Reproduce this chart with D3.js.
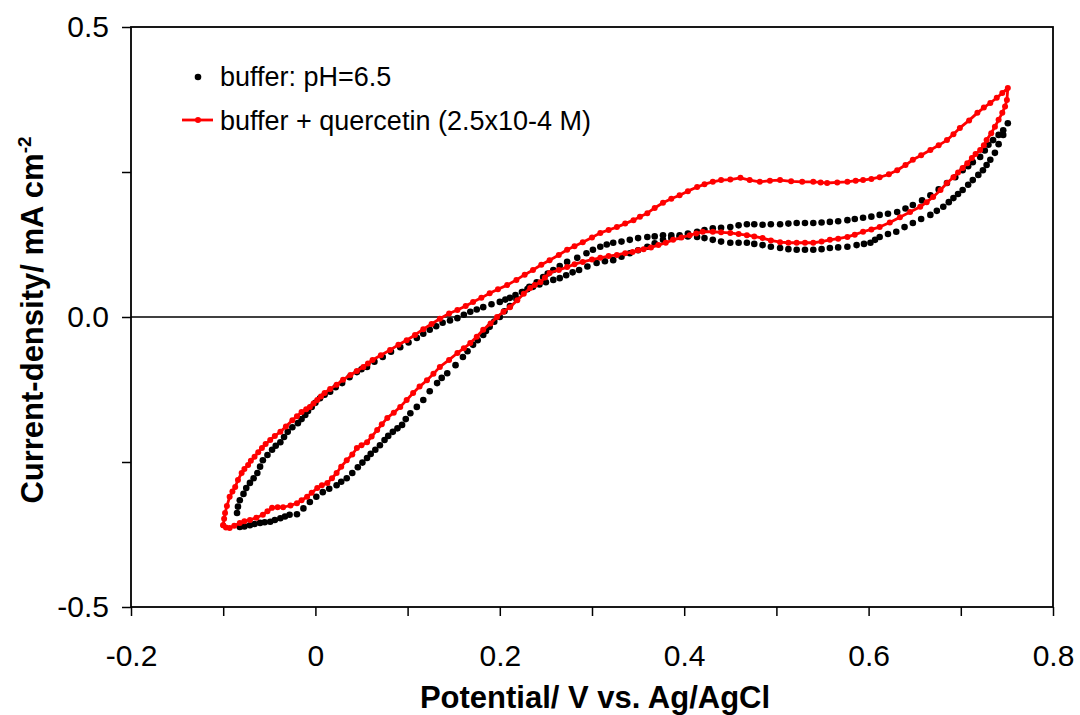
<!DOCTYPE html>
<html><head><meta charset="utf-8">
<script src="https://cdn.jsdelivr.net/npm/d3@7"></script>
<style>body{margin:0;background:#fff}svg{display:block}text{font-family:"Liberation Sans",Arial,sans-serif}</style>
</head><body>
<svg id="chart" width="1080" height="715"></svg>
<script>
// ---- data ----
const seriesNames = ["buffer: pH=6.5", "buffer + quercetin (2.5x10-4 M)"];

// buffer: anodic + cathodic branches (potential V, current density mA cm-2)
const bufferV = [
  -0.085,-0.084,-0.082,-0.078,-0.075,-0.071,-0.067,-0.063,-0.060,-0.057,
  -0.052,-0.047,-0.043,-0.038,-0.034,-0.030,-0.025,-0.019,-0.015,-0.011,
  -0.008,-0.004,0.000,0.005,0.010,0.016,0.022,0.029,0.037,0.045,
  0.050,0.056,0.064,0.073,0.082,0.092,0.101,0.110,0.117,0.124,
  0.131,0.138,0.146,0.154,0.161,0.168,0.175,0.182,0.191,0.200,
  0.206,0.211,0.217,0.224,0.230,0.236,0.243,0.250,0.258,0.265,
  0.272,0.279,0.286,0.295,0.305,0.314,0.323,0.332,0.341,0.350,
  0.360,0.368,0.377,0.386,0.395,0.404,0.414,0.422,0.431,0.440,
  0.450,0.459,0.468,0.476,0.485,0.494,0.504,0.513,0.522,0.531,
  0.540,0.549,0.558,0.567,0.577,0.587,0.595,0.602,0.607,0.612,
  0.621,0.630,0.639,0.648,0.657,0.667,0.674,0.681,0.687,0.692,
  0.697,0.702,0.708,0.713,0.719,0.724,0.728,0.732,0.737,0.741,
  0.746,0.751,
  0.746,0.741,0.735,0.730,0.726,0.721,0.713,0.708,0.702,0.694,
  0.685,0.676,0.667,0.658,0.648,0.640,0.631,0.621,0.612,0.603,
  0.594,0.585,0.577,0.567,0.558,0.549,0.540,0.531,0.522,0.513,
  0.504,0.494,0.485,0.476,0.468,0.459,0.450,0.440,0.431,0.422,
  0.414,0.404,0.395,0.386,0.377,0.368,0.360,0.350,0.341,0.332,
  0.323,0.316,0.309,0.301,0.294,0.284,0.273,0.265,0.258,0.252,
  0.247,0.240,0.232,0.225,0.218,0.211,0.205,0.200,0.194,0.189,
  0.185,0.182,0.176,0.171,0.165,0.160,0.152,0.143,0.137,0.132,
  0.124,0.117,0.110,0.103,0.098,0.094,0.089,0.084,0.079,0.075,
  0.070,0.065,0.060,0.056,0.051,0.046,0.040,0.034,0.028,0.023,
  0.015,0.008,0.001,-0.006,-0.013,-0.020,-0.028,-0.033,-0.038,-0.044,
  -0.049,-0.055,-0.060,-0.066,-0.071,-0.077,-0.082];
const bufferI = [
  -0.338,-0.327,-0.316,-0.305,-0.295,-0.286,-0.278,-0.269,-0.258,-0.247,
  -0.238,-0.229,-0.222,-0.216,-0.207,-0.198,-0.190,-0.183,-0.176,-0.169,
  -0.162,-0.155,-0.148,-0.140,-0.134,-0.129,-0.121,-0.114,-0.104,-0.095,
  -0.090,-0.086,-0.077,-0.069,-0.060,-0.052,-0.044,-0.036,-0.029,-0.022,
  -0.016,-0.010,-0.006,-0.002,0.004,0.009,0.013,0.017,0.022,0.026,
  0.030,0.033,0.038,0.043,0.048,0.052,0.056,0.060,0.064,0.067,
  0.072,0.077,0.081,0.087,0.093,0.096,0.098,0.104,0.110,0.115,
  0.121,0.127,0.133,0.136,0.138,0.139,0.138,0.136,0.133,0.130,
  0.128,0.128,0.128,0.126,0.124,0.121,0.119,0.117,0.116,0.116,
  0.116,0.117,0.119,0.120,0.121,0.124,0.126,0.128,0.133,0.138,
  0.143,0.147,0.155,0.162,0.169,0.176,0.183,0.190,0.198,0.205,
  0.212,0.219,0.228,0.236,0.245,0.253,0.262,0.271,0.283,0.298,
  0.314,0.334,
  0.322,0.314,0.305,0.297,0.287,0.276,0.267,0.260,0.253,0.241,
  0.231,0.220,0.210,0.201,0.193,0.187,0.181,0.178,0.176,0.173,
  0.171,0.169,0.167,0.165,0.164,0.163,0.162,0.162,0.162,0.161,
  0.160,0.160,0.159,0.160,0.160,0.158,0.155,0.154,0.153,0.150,
  0.147,0.144,0.141,0.141,0.141,0.139,0.138,0.136,0.133,0.130,
  0.128,0.125,0.121,0.116,0.110,0.102,0.095,0.088,0.081,0.075,
  0.069,0.060,0.052,0.043,0.031,0.019,0.010,0.000,-0.008,-0.017,
  -0.024,-0.031,-0.040,-0.048,-0.059,-0.069,-0.083,-0.097,-0.105,-0.114,
  -0.128,-0.143,-0.155,-0.166,-0.176,-0.186,-0.192,-0.198,-0.205,-0.212,
  -0.221,-0.229,-0.236,-0.243,-0.251,-0.259,-0.269,-0.278,-0.284,-0.290,
  -0.296,-0.302,-0.310,-0.319,-0.330,-0.340,-0.341,-0.344,-0.347,-0.350,
  -0.353,-0.354,-0.355,-0.357,-0.359,-0.361,-0.362];

// buffer + quercetin
const quercetinV = [
  -0.100,-0.099,-0.098,-0.096,-0.093,-0.090,-0.087,-0.084,-0.080,-0.077,
  -0.073,-0.070,-0.066,-0.062,-0.058,-0.054,-0.049,-0.044,-0.038,-0.032,
  -0.025,-0.020,-0.015,-0.010,-0.006,-0.002,0.002,0.006,0.010,0.016,
  0.023,0.030,0.038,0.045,0.052,0.057,0.062,0.071,0.081,0.090,
  0.099,0.108,0.117,0.126,0.135,0.145,0.154,0.163,0.171,0.180,
  0.189,0.198,0.208,0.218,0.227,0.236,0.245,0.254,0.264,0.273,
  0.281,0.290,0.300,0.309,0.318,0.327,0.336,0.345,0.352,0.360,
  0.368,0.377,0.386,0.395,0.404,0.414,0.422,0.431,0.440,0.450,
  0.461,0.471,0.482,0.493,0.504,0.516,0.528,0.540,0.548,0.555,
  0.566,0.577,0.586,0.594,0.603,0.612,0.622,0.631,0.640,0.648,
  0.657,0.667,0.676,0.685,0.692,0.699,0.709,0.718,0.725,0.732,
  0.739,0.745,0.751,
  0.750,0.748,0.745,0.741,0.737,0.733,0.728,0.725,0.721,0.716,
  0.712,0.707,0.702,0.697,0.692,0.685,0.678,0.670,0.663,0.656,
  0.645,0.634,0.623,0.612,0.603,0.594,0.585,0.577,0.567,0.558,
  0.549,0.540,0.531,0.522,0.513,0.504,0.494,0.485,0.476,0.468,
  0.459,0.450,0.440,0.431,0.420,0.413,0.406,0.397,0.388,0.380,
  0.372,0.364,0.356,0.350,0.344,0.336,0.327,0.318,0.309,0.300,
  0.290,0.281,0.273,0.264,0.254,0.249,0.244,0.238,0.233,0.226,
  0.219,0.211,0.204,0.197,0.190,0.182,0.175,0.168,0.161,0.154,
  0.145,0.135,0.128,0.121,0.113,0.106,0.099,0.092,0.085,0.078,
  0.072,0.067,0.061,0.056,0.050,0.045,0.040,0.034,0.028,0.023,
  0.018,0.013,0.007,0.002,-0.004,-0.009,-0.015,-0.020,-0.027,-0.035,
  -0.041,-0.047,-0.052,-0.057,-0.064,-0.071,-0.077,-0.082,-0.088,-0.093,
  -0.097,-0.100];
const quercetinI = [
  -0.359,-0.348,-0.338,-0.326,-0.310,-0.301,-0.293,-0.281,-0.269,-0.262,
  -0.255,-0.248,-0.241,-0.233,-0.226,-0.219,-0.212,-0.205,-0.198,-0.189,
  -0.178,-0.171,-0.164,-0.159,-0.155,-0.149,-0.143,-0.137,-0.131,-0.124,
  -0.117,-0.108,-0.100,-0.093,-0.086,-0.080,-0.074,-0.066,-0.057,-0.048,
  -0.040,-0.031,-0.021,-0.012,-0.003,0.006,0.012,0.019,0.026,0.033,
  0.041,0.048,0.055,0.064,0.073,0.081,0.090,0.098,0.107,0.116,
  0.122,0.129,0.137,0.145,0.150,0.155,0.161,0.167,0.173,0.179,
  0.188,0.197,0.204,0.210,0.217,0.224,0.229,0.233,0.236,0.237,
  0.240,0.236,0.233,0.235,0.236,0.234,0.233,0.233,0.232,0.231,
  0.232,0.233,0.235,0.236,0.238,0.241,0.246,0.253,0.262,0.271,
  0.279,0.288,0.296,0.305,0.315,0.326,0.339,0.352,0.361,0.369,
  0.378,0.386,0.395,
  0.374,0.363,0.352,0.340,0.328,0.317,0.305,0.296,0.288,0.281,
  0.274,0.265,0.257,0.249,0.241,0.231,0.219,0.207,0.198,0.190,
  0.181,0.172,0.163,0.155,0.151,0.147,0.142,0.138,0.135,0.133,
  0.130,0.128,0.128,0.128,0.128,0.129,0.132,0.136,0.139,0.141,
  0.143,0.145,0.146,0.147,0.147,0.144,0.141,0.137,0.133,0.128,
  0.124,0.120,0.117,0.115,0.112,0.110,0.107,0.105,0.102,0.099,
  0.095,0.091,0.086,0.081,0.076,0.068,0.060,0.055,0.050,0.040,
  0.029,0.017,0.009,0.000,-0.011,-0.022,-0.034,-0.045,-0.054,-0.062,
  -0.074,-0.086,-0.098,-0.109,-0.120,-0.131,-0.143,-0.155,-0.165,-0.174,
  -0.185,-0.195,-0.206,-0.216,-0.221,-0.226,-0.237,-0.247,-0.258,-0.269,
  -0.278,-0.286,-0.290,-0.295,-0.303,-0.310,-0.316,-0.321,-0.325,-0.328,
  -0.328,-0.329,-0.335,-0.341,-0.346,-0.350,-0.352,-0.355,-0.360,-0.364,
  -0.363,-0.359];

const xTickValues = [-0.2,-0.1,0,0.1,0.2,0.3,0.4,0.5,0.6,0.7,0.8];
const xTickLabels = ["-0.2","","0","","0.2","","0.4","","0.6","","0.8"];
const yTickValues = [-0.5,-0.25,0,0.25,0.5];
const yTickLabels = ["-0.5","","0.0","","0.5"];
const xTitle = "Potential/ V vs. Ag/AgCl";
const yTitle = "Current-density/ mA cm";
const yTitleSup = "-2";

// ---- drawing ----
const svg = d3.select("#chart");
const L = 131, R = 1053, T = 27, B = 607;
const x = d3.scaleLinear().domain([-0.2, 0.8]).range([L, R]);
const y = d3.scaleLinear().domain([-0.5, 0.5]).range([B, T]);

const buffer = bufferV.map((v, i) => [v, bufferI[i]]);
const querc = quercetinV.map((v, i) => [v, quercetinI[i]]);

// zero line
svg.append("line").attr("x1", L).attr("x2", R).attr("y1", y(0)).attr("y2", y(0))
  .attr("stroke", "#000").attr("stroke-width", 1.5);

// axes
const xAxis = d3.axisBottom(x).tickValues(xTickValues).tickSize(9).tickPadding(0)
  .tickFormat((d, i) => xTickLabels[i]);
const gx = svg.append("g").attr("transform", `translate(0,${B})`).call(xAxis);
gx.select(".domain").remove();
gx.selectAll(".tick line").attr("stroke", "#000").attr("stroke-width", 1.5);
gx.selectAll(".tick text").attr("y", 37).attr("dy", "0.72em")
  .attr("font-size", 30).attr("fill", "#000").attr("font-family", "Liberation Sans, Arial, sans-serif");

const yAxis = d3.axisLeft(y).tickValues(yTickValues).tickSize(9).tickPadding(13)
  .tickFormat((d, i) => yTickLabels[i]);
const gy = svg.append("g").attr("transform", `translate(${L},0)`).call(yAxis);
gy.select(".domain").remove();
gy.selectAll(".tick line").attr("stroke", "#000").attr("stroke-width", 1.5);
gy.selectAll(".tick text").attr("font-size", 30).attr("fill", "#000")
  .attr("font-family", "Liberation Sans, Arial, sans-serif");

// frame
svg.append("rect").attr("x", L).attr("y", T).attr("width", R - L).attr("height", B - T)
  .attr("fill", "none").attr("stroke", "#000").attr("stroke-width", 1.8);

// buffer dots
svg.append("g").selectAll("circle").data(buffer).join("circle")
  .attr("cx", d => x(d[0])).attr("cy", d => y(d[1])).attr("r", 3.3).attr("fill", "#000");

// quercetin line + dots
const line = d3.line().x(d => x(d[0])).y(d => y(d[1])).curve(d3.curveLinear);
svg.append("path").datum(querc).attr("d", line).attr("fill", "none")
  .attr("stroke", "#ff0000").attr("stroke-width", 2.8).attr("stroke-linejoin", "round");
svg.append("g").selectAll("circle").data(querc).join("circle")
  .attr("cx", d => x(d[0])).attr("cy", d => y(d[1])).attr("r", 3.0).attr("fill", "#ff0000");

// legend
const lg = svg.append("g").attr("font-size", 27).attr("fill", "#000");
lg.append("circle").attr("cx", 198).attr("cy", 77).attr("r", 3.3).attr("fill", "#000");
lg.append("text").attr("x", 220).attr("y", 86).text(seriesNames[0]);
lg.append("line").attr("x1", 182).attr("x2", 213).attr("y1", 120).attr("y2", 120)
  .attr("stroke", "#ff0000").attr("stroke-width", 2.8);
lg.append("circle").attr("cx", 198).attr("cy", 120).attr("r", 3.0).attr("fill", "#ff0000");
lg.append("text").attr("x", 220).attr("y", 130).text(seriesNames[1]);

// axis titles
svg.append("text").attr("x", (L + R) / 2 + 3).attr("y", 708).attr("text-anchor", "middle")
  .attr("font-size", 31).attr("font-weight", "bold").text(xTitle);
const yt = svg.append("text").attr("transform", `translate(43,${(T + B) / 2 + 3}) rotate(-90)`)
  .attr("text-anchor", "middle").attr("font-size", 31).attr("font-weight", "bold");
yt.append("tspan").text(yTitle);
yt.append("tspan").attr("dy", -12).attr("font-size", 19).text(yTitleSup);
</script>
</body></html>
